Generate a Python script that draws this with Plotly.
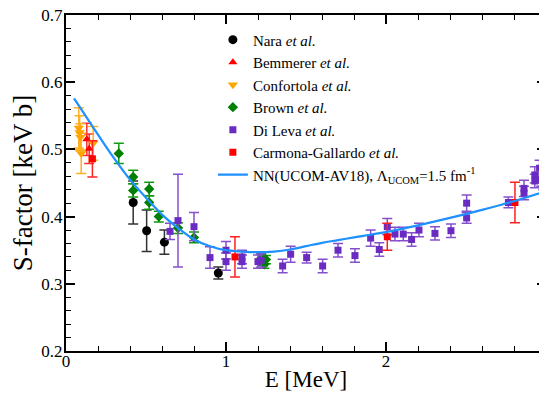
import plotly.graph_objects as go

# ---- data ----
nara_E = [0.42, 0.504, 0.615, 0.952]
nara_S = [0.421, 0.379, 0.362, 0.316]
nara_err = [0.032, 0.031, 0.018, 0.009]

bem_E = [0.13, 0.145]
bem_S = [0.515, 0.501]
bem_err = [0.024, 0.022]

conf_E = [0.08, 0.085, 0.09, 0.095, 0.17]
conf_S = [0.532, 0.525, 0.518, 0.494, 0.509]
conf_err = [0.030, 0.025, 0.020, 0.030, 0.025]

brown_E = [0.33, 0.42, 0.42, 0.52, 0.52, 0.58, 0.70, 0.80, 1.22, 1.23, 1.24, 1.25]
brown_S = [0.494, 0.459, 0.439, 0.441, 0.421, 0.400, 0.383, 0.369, 0.338, 0.333, 0.329, 0.336]
brown_err = [0.015, 0.010, 0.010, 0.010, 0.010, 0.008, 0.008, 0.008, 0.006, 0.006, 0.006, 0.006]

dileva_E = [0.65, 0.70, 0.80, 0.90, 1.00, 1.00, 1.10, 1.10, 1.20, 1.22, 1.354, 1.404,
            1.504, 1.604, 1.70, 1.806, 1.904, 1.958, 2.008, 2.056, 2.108, 2.16,
            2.206, 2.306, 2.406, 2.504, 2.504, 2.765, 2.8625, 2.8625, 2.93, 2.983,
            2.93, 2.96, 2.99, 2.97]
dileva_S = [0.378, 0.394, 0.385, 0.339, 0.350, 0.333, 0.340, 0.333, 0.333, 0.335, 0.3265, 0.344,
            0.339, 0.3265, 0.350, 0.342, 0.368, 0.351, 0.385, 0.374, 0.374, 0.366,
            0.380, 0.375, 0.379, 0.420, 0.398, 0.421, 0.442, 0.435, 0.453, 0.450,
            0.462, 0.472, 0.478, 0.455]
dileva_err = [0.012, 0.069, 0.021, 0.016, 0.013, 0.013, 0.010, 0.010, 0.010, 0.010, 0.010, 0.012,
              0.008, 0.010, 0.010, 0.010, 0.012, 0.010, 0.012, 0.010, 0.010, 0.010,
              0.010, 0.010, 0.010, 0.012, 0.008, 0.008, 0.012, 0.010, 0.010, 0.010,
              0.012, 0.012, 0.010, 0.010]

carm_E = [0.165, 1.056, 2.008, 2.806]
carm_S = [0.486, 0.340, 0.370, 0.421]
carm_err = [0.027, 0.030, 0.020, 0.030]

theory_E = [0.05, 0.1, 0.2, 0.3, 0.4, 0.5, 0.6, 0.7, 0.8, 0.9, 1.0, 1.1, 1.2, 1.3, 1.4,
            1.5, 1.6, 1.7, 1.8, 1.9, 2.0, 2.2, 2.4, 2.6, 2.8, 3.0]
theory_S = [0.576, 0.558, 0.522, 0.487, 0.455, 0.428, 0.403, 0.383, 0.366, 0.356, 0.350,
            0.348, 0.347, 0.348, 0.351, 0.356, 0.361, 0.365, 0.369, 0.373, 0.377,
            0.387, 0.398, 0.410, 0.423, 0.438]

FONT = "Liberation Serif, Times New Roman, serif"

fig = go.Figure()


def add_series(name, E, S, err, color, symbol, size, errcolor):
    fig.add_trace(go.Scatter(
        x=E, y=S, mode="markers", name=name, legendgroup="data",
        marker=dict(color=color, symbol=symbol, size=size, line=dict(width=0)),
        error_y=dict(type="data", array=err, visible=True, color=errcolor,
                     thickness=1.5, width=5),
    ))


add_series("Nara <i>et al.</i>", nara_E, nara_S, nara_err, "#000000", "circle", 9, "#333333")
add_series("Bemmerer <i>et al.</i>", bem_E, bem_S, bem_err, "#ff0000", "triangle-up", 8, "#ff3030")
add_series("Confortola <i>et al.</i>", conf_E, conf_S, conf_err, "#ffa500", "triangle-down", 9, "#ffb020")
add_series("Brown <i>et al.</i>", brown_E, brown_S, brown_err, "#008000", "diamond", 8, "#119911")
add_series("Di Leva <i>et al.</i>", dileva_E, dileva_S, dileva_err, "#6a2bc2", "square", 7, "#8650cc")
add_series("Carmona-Gallardo <i>et al.</i>", carm_E, carm_S, carm_err, "#ff0000", "square", 7, "#ff2020")

fig.add_trace(go.Scatter(
    x=theory_E, y=theory_S, mode="lines", legendgroup="data",
    line=dict(color="#1e90ff", width=2.2, shape="spline"),
    name="NN(UCOM-AV18), Λ<sub>UCOM</sub>=1.5 fm<sup>-1</sup>",
))

axis_common = dict(
    showline=True, linecolor="black", linewidth=2, mirror="ticks",
    ticks="inside", ticklen=9, tickwidth=1.5, tickcolor="black",
    showgrid=False, zeroline=False, automargin=False,
    ticklabeloverflow="allow",
    tickfont=dict(family=FONT, size=17, color="black"),
)

fig.update_xaxes(range=[0, 3.000001], dtick=1, tick0=0, ticklabelstandoff=-6,
                 minor=dict(dtick=0.2, ticks="inside", ticklen=5, tickwidth=1.2, tickcolor="black"),
                 title_text="E [MeV]", title_standoff=0,
                 title_font=dict(family=FONT, size=23, color="black"), **axis_common)
fig.update_yaxes(range=[0.2, 0.7000001], dtick=0.1, tick0=0.2, tickformat=".1f", ticklabelstandoff=-2,
                 minor=dict(dtick=0.02, ticks="inside", ticklen=5, tickwidth=1.2, tickcolor="black"),
                 title_text="S-factor [keV b]", title_standoff=6,
                 title_font=dict(family=FONT, size=27, color="black"), **axis_common)

# page body has an 8px margin: figure is sized/placed so the plot lands where the reference has it
fig.update_layout(
    width=539, height=389,
    margin=dict(l=58, r=1, t=7, b=46),
    plot_bgcolor="white", paper_bgcolor="white",
    font=dict(family=FONT, color="black"),
    legend=dict(x=0.306, y=0.975, xanchor="left", yanchor="top",
                bgcolor="rgba(0,0,0,0)", borderwidth=0,
                font=dict(family=FONT, size=15, color="black"),
                tracegroupgap=0, itemwidth=30),
    showlegend=True,
)

fig.write_html("out.html")
